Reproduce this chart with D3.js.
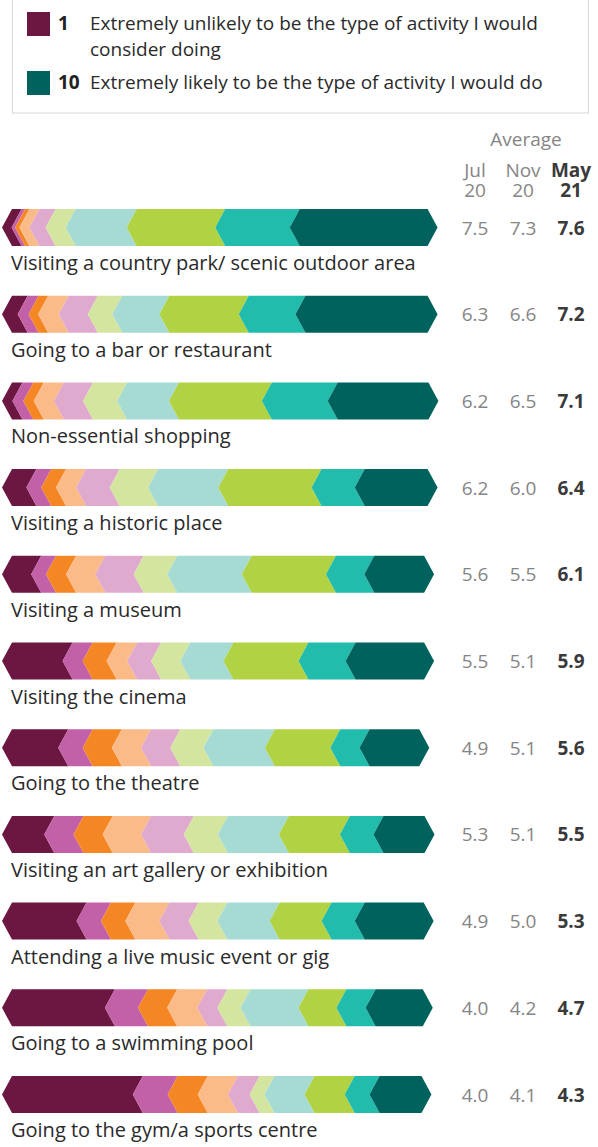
<!DOCTYPE html>
<html>
<head>
<meta charset="utf-8">
<script src="https://cdn.jsdelivr.net/npm/d3@7"></script>
<style>
  body { margin: 0; background: #fff; }
  svg text { font-family: "Open Sans", Lato, sans-serif; }
</style>
</head>
<body>
<svg id="chart" width="598" height="1147"></svg>
<script>
// activities, top to bottom
var activities = [
  "Visiting a country park/ scenic outdoor area",
  "Going to a bar or restaurant",
  "Non-essential shopping",
  "Visiting a historic place",
  "Visiting a museum",
  "Visiting the cinema",
  "Going to the theatre",
  "Visiting an art gallery or exhibition",
  "Attending a live music event or gig",
  "Going to a swimming pool",
  "Going to the gym/a sports centre"
];

// share of answers 1..10 (percent)
var shares = [
  [2.2, 0.8, 1.0, 2.3, 3.7, 4.6, 14.0, 20.3, 17.1, 33.9],
  [3.6, 2.5, 2.2, 4.7, 6.7, 5.6, 10.8, 18.2, 13.0, 32.6],
  [2.4, 2.5, 2.4, 4.6, 6.7, 7.8, 11.9, 21.3, 15.1, 25.4],
  [5.6, 3.4, 3.4, 4.6, 7.7, 8.8, 16.1, 21.4, 9.9, 19.0],
  [6.7, 3.4, 4.6, 6.7, 8.8, 7.7, 17.1, 19.3, 8.8, 16.0],
  [13.9, 4.6, 5.5, 4.7, 5.5, 6.7, 9.9, 17.2, 10.8, 20.3],
  [12.9, 5.6, 6.7, 6.7, 6.7, 7.6, 14.1, 15.0, 6.7, 16.0],
  [9.7, 6.7, 6.7, 8.8, 9.8, 7.8, 14.0, 14.0, 7.7, 14.0],
  [17.1, 5.6, 5.6, 7.8, 6.7, 6.6, 12.0, 11.9, 7.6, 18.1],
  [23.6, 7.6, 6.7, 6.9, 4.6, 5.3, 13.3, 8.7, 6.7, 15.4],
  [30.0, 8.0, 6.9, 6.9, 5.0, 3.4, 9.2, 9.2, 5.7, 14.2]
];

// averages
var periods = ["Jul|20", "Nov|20", "May|21"];
var avgJul = [7.5, 6.3, 6.2, 6.2, 5.6, 5.5, 4.9, 5.3, 4.9, 4.0, 4.0];
var avgNov = [7.3, 6.6, 6.5, 6.0, 5.5, 5.1, 5.1, 5.1, 5.0, 4.2, 4.1];
var avgMay = [7.6, 7.2, 7.1, 6.4, 6.1, 5.9, 5.6, 5.5, 5.3, 4.7, 4.3];

var scoreColors = ["#6b1741", "#c261a7", "#f58624", "#fbbb88", "#dfaacd",
                   "#d4e5a0", "#a6dbd3", "#b0d243", "#22bcad", "#00625c"];

var legendItems = [
  { key: "1", lines: ["Extremely unlikely to be the type of activity I would", "consider doing"] },
  { key: "10", lines: ["Extremely likely to be the type of activity I would do"] }
];

var Config = {
  BarLeft: 2,
  BarRight: 438,
  BarTop: 209,
  RowStep: 86.7,
  BarHeight: 37,
  Point: 10,
  LabelOffset: 61,
  FontSize: 19,
  LabelFontSize: 20,
  LegendFontSize: 19,
  Grey: "#858585",
  Dark: "#3a3a3a"
};

var svg = d3.select("#chart");

var x = d3.scaleLinear().domain([0, 100]).range([Config.BarLeft, Config.BarRight]);
var y = d3.scaleBand()
  .domain(activities)
  .range([Config.BarTop, Config.BarTop + activities.length * Config.RowStep]);
var col = d3.scalePoint().domain(periods).range([475, 571]);
var color = d3.scaleOrdinal().domain(d3.range(10)).range(scoreColors);

// legend box
svg.append("rect")
  .attr("x", 12.5).attr("y", -1)
  .attr("width", 576).attr("height", 114)
  .attr("fill", "none")
  .attr("stroke", "#d6d6d6");

var legendY = [12, 71];
legendItems.forEach(function (item, i) {
  svg.append("rect")
    .attr("x", 27).attr("y", legendY[i])
    .attr("width", 23).attr("height", 24)
    .attr("fill", i == 0 ? scoreColors[0] : scoreColors[9]);
  svg.append("text")
    .attr("x", 58).attr("y", legendY[i] + 18)
    .attr("font-size", Config.LegendFontSize)
    .attr("font-weight", "bold")
    .attr("fill", "#222")
    .text(item.key);
  item.lines.forEach(function (line, k) {
    svg.append("text")
      .attr("x", 90).attr("y", legendY[i] + 18 + k * 26)
      .attr("font-size", Config.LegendFontSize)
      .attr("fill", "#2a2a2a")
      .text(line);
  });
});

// column headers
svg.append("text")
  .attr("x", 526).attr("y", 146)
  .attr("text-anchor", "middle")
  .attr("font-size", Config.FontSize)
  .attr("fill", Config.Grey)
  .text("Average");

periods.forEach(function (p, j) {
  var last = j == periods.length - 1;
  var t = svg.append("text")
    .attr("text-anchor", "middle")
    .attr("font-size", Config.FontSize)
    .attr("font-weight", last ? "bold" : "normal")
    .attr("fill", last ? Config.Dark : Config.Grey);
  p.split("|").forEach(function (part, k) {
    t.append("tspan")
      .attr("x", col(p)).attr("y", 177 + k * 20)
      .text(part);
  });
});

// chevron shaped segment, left tip a, right tip b
function segmentPath(a, b, top, isLast) {
  var h = Config.BarHeight, d = Config.Point, mid = top + h / 2;
  var right = isLast
    ? [[b - d, top], [b, mid], [b - d, top + h]]
    : [[b + d, top], [b, mid], [b + d, top + h]];
  var pts = [[a + d, top]].concat(right).concat([[a + d, top + h], [a, mid]]);
  return "M" + pts.map(function (p) { return p[0] + "," + p[1]; }).join("L") + "Z";
}

var rows = svg.selectAll("g.row")
  .data(activities)
  .enter()
  .append("g")
  .attr("class", "row");

rows.each(function (name, i) {
  var g = d3.select(this);
  var top = y(name);
  var cum = 0;
  var segs = shares[i].map(function (v, k) {
    var s = { k: k, start: cum, end: cum + v };
    cum += v;
    return s;
  });

  g.selectAll("path")
    .data(segs)
    .enter()
    .append("path")
    .attr("d", function (s, k) { return segmentPath(x(s.start), x(s.end), top, k == segs.length - 1); })
    .attr("fill", function (s) { return color(s.k); });

  g.append("text")
    .attr("x", 11)
    .attr("y", top + Config.LabelOffset)
    .attr("font-size", Config.LabelFontSize)
    .attr("fill", "#2a2a2a")
    .text(name);

  [avgJul[i], avgNov[i], avgMay[i]].forEach(function (v, j) {
    var last = j == 2;
    g.append("text")
      .attr("x", col(periods[j]))
      .attr("y", top + Config.BarHeight / 2 + 7)
      .attr("text-anchor", "middle")
      .attr("font-size", Config.FontSize)
      .attr("font-weight", last ? "bold" : "normal")
      .attr("fill", last ? Config.Dark : Config.Grey)
      .text(v.toFixed(1));
  });
});
</script>
</body>
</html>
